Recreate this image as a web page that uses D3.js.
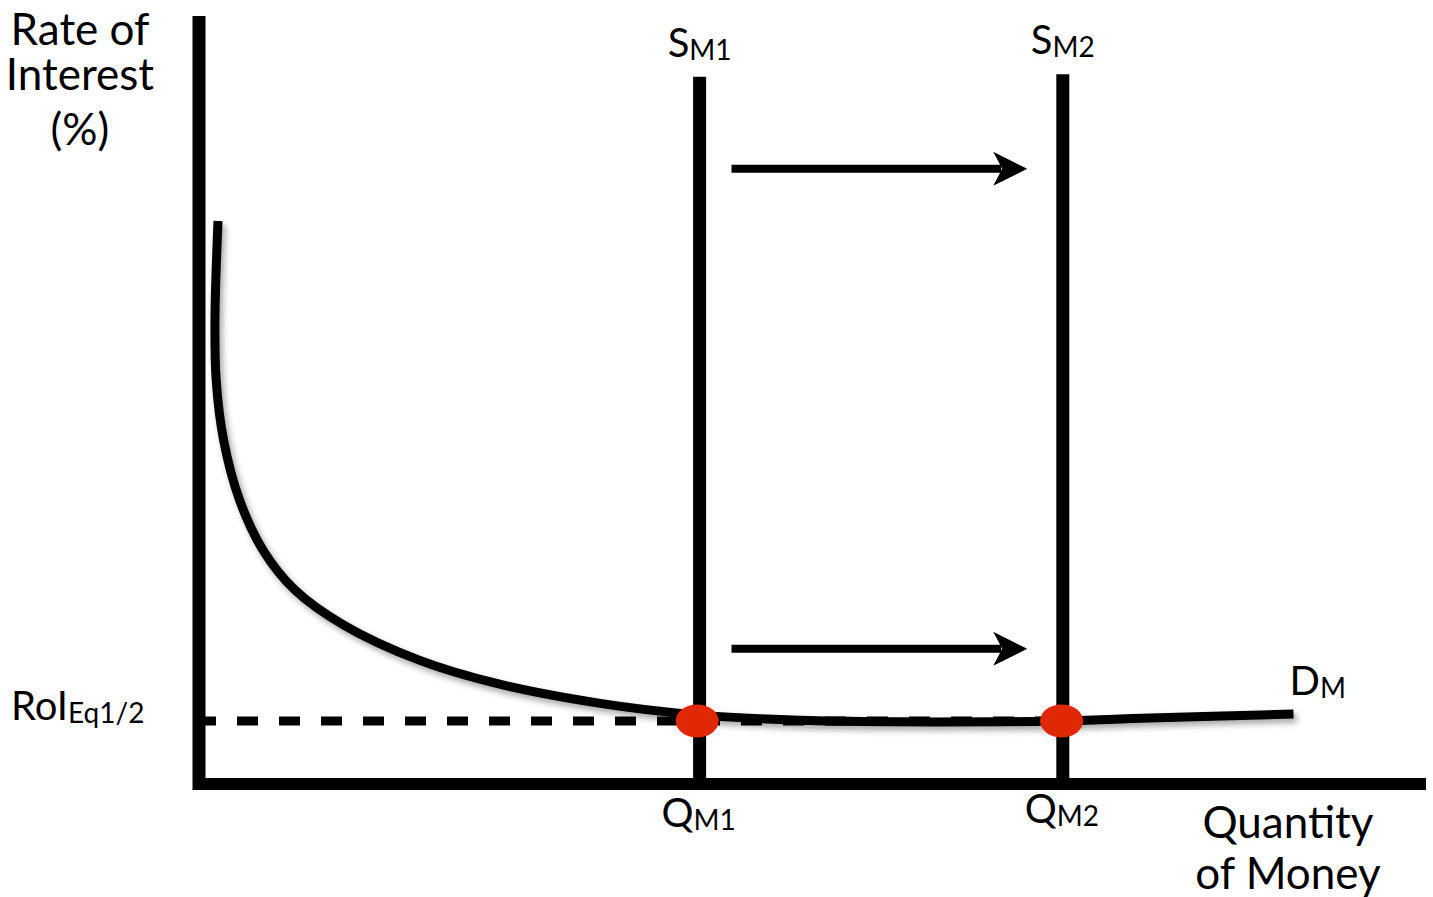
<!DOCTYPE html>
<html lang="en">
<head>
<meta charset="UTF-8">
<title>Money market</title>
<script src="https://cdnjs.cloudflare.com/ajax/libs/d3/7.8.5/d3.min.js"></script>
<style>
  body { margin: 0; background: #fff; }
  text { font-family: Lato, "Open Sans", sans-serif; fill: #000; }
</style>
</head>
<body>
<svg width="1433" height="897"></svg>
<script>
"use strict";

// demand for money, in chart units (0..100 on both axes)
const demandQty  = [1.55, 1.3, 1.4, 2.0, 3.3, 5.2, 7.8, 11.8, 18.0, 24.5, 32.7, 40.6, 49.0, 57.1, 65.3, 70.3, 77.5, 89.2];
const demandRate = [73.3, 60.4, 52.6, 44.8, 37.0, 30.5, 25.3, 20.7, 16.1, 13.0, 10.5, 9.0, 8.3, 8.1, 8.1, 8.2, 8.6, 9.1];

// money supply before / after
const supplyNames = ["M1", "M2"];
const supplyQty = [40.8, 70.4];
const supplyTop = [92.1, 92.4];

// equilibrium
const eqRate = 8.2;
const eqQty = [40.6, 70.3];

// shift arrows
const shiftFrom = 43.4;
const shiftTo = 67.5;
const shiftRates = [80.1, 17.6];

const svg = d3.select("svg");

const x = d3.scaleLinear().domain([0, 100]).range([199, 1426]);
const y = d3.scaleLinear().domain([0, 100]).range([784, 16]);

const defs = svg.append("defs");
defs.append("filter")
    .attr("id", "shadow")
    .attr("x", "-10%").attr("y", "-10%")
    .attr("width", "130%").attr("height", "130%")
    .append("feDropShadow")
    .attr("dx", 3).attr("dy", 4)
    .attr("stdDeviation", 3)
    .attr("flood-color", "#000")
    .attr("flood-opacity", 0.35);

// axes
svg.append("line")
    .attr("x1", x(0)).attr("x2", x(0))
    .attr("y1", y(100)).attr("y2", y(0) + 6)
    .attr("stroke", "#000").attr("stroke-width", 13);
svg.append("line")
    .attr("x1", x(0) - 6).attr("x2", x(100))
    .attr("y1", y(0)).attr("y2", y(0))
    .attr("stroke", "#000").attr("stroke-width", 12);

// supply lines
svg.selectAll(".supply")
    .data(supplyQty)
    .enter()
    .append("line")
    .attr("class", "supply")
    .attr("x1", d => x(d)).attr("x2", d => x(d))
    .attr("y1", (d, i) => y(supplyTop[i]))
    .attr("y2", y(0))
    .attr("stroke", "#000").attr("stroke-width", 13);

// equilibrium rate, dashed
svg.append("line")
    .attr("x1", x(0) - 4).attr("x2", x(eqQty[1]))
    .attr("y1", y(eqRate)).attr("y2", y(eqRate))
    .attr("stroke", "#000").attr("stroke-width", 9)
    .attr("stroke-dasharray", "21,21");

// demand curve
const demand = demandQty.map((q, i) => [q, demandRate[i]]);
const line = d3.line()
    .x(d => x(d[0]))
    .y(d => y(d[1]))
    .curve(d3.curveCatmullRom.alpha(0.5));

svg.append("path")
    .datum(demand)
    .attr("d", line)
    .attr("fill", "none")
    .attr("stroke", "#000")
    .attr("stroke-width", 9)
    .attr("filter", "url(#shadow)");

// equilibrium points
svg.selectAll(".eq")
    .data(eqQty)
    .enter()
    .append("ellipse")
    .attr("class", "eq")
    .attr("cx", d => x(d)).attr("cy", y(eqRate))
    .attr("rx", 21.5).attr("ry", 16.5)
    .attr("fill", "#e12805");

// shift arrows
const arrows = svg.selectAll(".arrow")
    .data(shiftRates)
    .enter()
    .append("g")
    .attr("class", "arrow");
arrows.append("line")
    .attr("x1", x(shiftFrom)).attr("x2", x(shiftTo) - 26)
    .attr("y1", d => y(d)).attr("y2", d => y(d))
    .attr("stroke", "#000").attr("stroke-width", 8);
arrows.append("path")
    .attr("d", d => {
        const tx = x(shiftTo), ty = y(d);
        return `M${tx},${ty} L${tx - 34},${ty - 17} L${tx - 25},${ty} L${tx - 34},${ty + 17} Z`;
    })
    .attr("fill", "#000");

// labels
const yTitle = svg.append("text")
    .attr("text-anchor", "middle")
    .style("font-size", "44px");
yTitle.append("tspan").attr("x", 80).attr("y", 45).text("Rate of");
yTitle.append("tspan").attr("x", 80).attr("y", 90).text("Interest");
yTitle.append("tspan").attr("x", 80).attr("y", 145).text("(%)");

const xTitle = svg.append("text")
    .attr("text-anchor", "middle")
    .style("font-size", "44px");
xTitle.append("tspan").attr("x", 1288).attr("y", 838).text("Quantity");
xTitle.append("tspan").attr("x", 1288).attr("y", 889).text("of Money");

function subLabel(px, py, main, sub, anchor) {
    const t = svg.append("text")
        .attr("x", px).attr("y", py)
        .attr("text-anchor", anchor)
        .style("font-size", "40px");
    t.append("tspan").text(main);
    t.append("tspan").attr("dy", 3).style("font-size", "28px").text(sub);
}

supplyNames.forEach((n, i) => {
    subLabel(x(supplyQty[i]), y(supplyTop[i]) - 20, "S", n, "middle");
    subLabel(x(supplyQty[i]) - 1, y(0) + 43 - i * 4, "Q", n, "middle");
});
subLabel(x(demandQty[demandQty.length - 1]) - 4, y(demandRate[demandRate.length - 1]) - 19, "D", "M", "start");
subLabel(11, y(eqRate) - 1, "RoI", "Eq1/2", "start");
</script>
</body>
</html>
